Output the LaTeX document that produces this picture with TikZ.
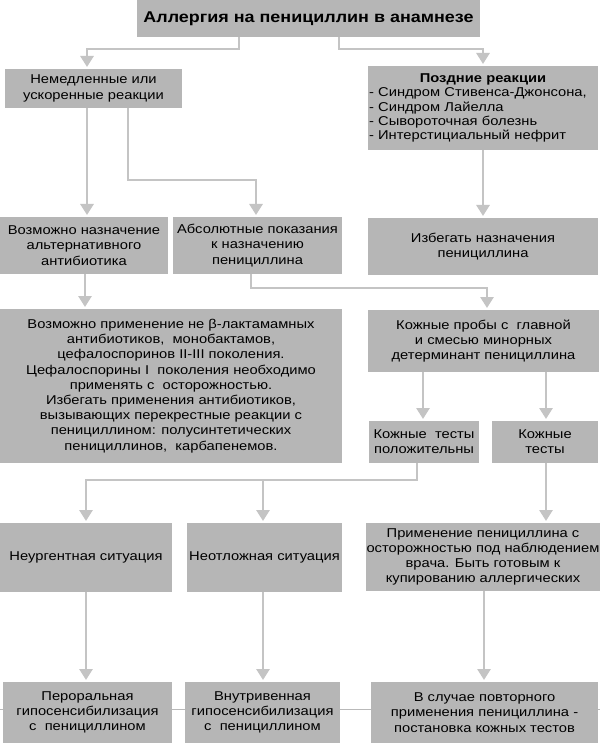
\documentclass[tikz,border=0pt]{standalone}
\usepackage{fontspec}
\setmainfont{Liberation Sans}[FakeStretch=1.15]
\usetikzlibrary{arrows.meta}
\definecolor{boxgray}{RGB}{182,182,182}
\definecolor{linegray}{RGB}{196,196,196}
\begin{document}
\begin{tikzpicture}[x=1pt,y=-1pt,
  box/.style={fill=boxgray, inner sep=1pt, outer sep=0pt, align=center,
    font=\fontsize{12.8}{15.2}\selectfont},
  conn/.style={draw=linegray, line width=2.8pt, -{Triangle[width=13pt,length=11pt]}, shorten >=2pt},
  link/.style={draw=linegray, line width=2.8pt}]
\fill[white] (0,0) rectangle (600,743);
\useasboundingbox (0,0) rectangle (600,743);
\draw[gray!55, line width=0.8pt] (0,709) -- (600,709);

\node[box, minimum width=343, minimum height=37, font=\fontsize{15.6}{17}\selectfont\bfseries] (title) at (308.5,18.5) {Аллергия на пенициллин в анамнезе};
\node[box, minimum width=177, minimum height=39] (imm) at (93.5,88.5) {Немедленные или\\ускоренные реакции};
\node[box, minimum width=230, minimum height=84, text width=228, align=left, font=\fontsize{12.8}{14.3}\selectfont] (late) at (483,108)
  {\makebox[228pt]{\bfseries Поздние реакции}\\- Синдром Стивенса-Джонсона,\\- Синдром Лайелла\\- Сывороточная болезнь\\- Интерстициальный нефрит};
\node[box, minimum width=168, minimum height=57] (alt) at (84,245.5) {Возможно назначение\\альтернативного\\антибиотика};
\node[box, minimum width=169, minimum height=57] (absind) at (257.5,245.5) {Абсолютные показания\\к назначению\\пенициллина};
\node[box, minimum width=230, minimum height=57] (avoid) at (483,246.5) {Избегать назначения\\пенициллина};
\node[box, minimum width=342, minimum height=154] (nonbeta) at (171,386) {Возможно применение не β-лактамамных\\антибиотиков,\ \ монобактамов,\\цефалоспоринов II-III поколения.\\Цефалоспорины I\ \ поколения необходимо\\применять с\ \ осторожностью.\\Избегать применения антибиотиков,\\вызывающих перекрестные реакции с\\пенициллином: полусинтетических\\пенициллинов,\ \ карбапенемов.};
\node[box, minimum width=231, minimum height=62] (skin) at (483.5,341) {Кожные пробы с\ \ главной\\и смесью минорных\\детерминант пенициллина};
\node[box, minimum width=110, minimum height=42] (pos) at (424,442) {Кожные\ \ тесты\\положительны};
\node[box, minimum width=106, minimum height=42] (neg) at (545,442) {Кожные\\тесты};
\node[box, minimum width=172, minimum height=69] (nonurg) at (86,557.5) {Неургентная ситуация};
\node[box, minimum width=155, minimum height=69] (urg) at (264.5,557.5) {Неотложная ситуация};
\node[box, minimum width=230, minimum height=68] (apply) at (483,557) {Применение пенициллина с\\осторожностью под наблюдением\\врача. Быть готовым к\\купированию аллергических};
\node[box, minimum width=169, minimum height=61] (oral) at (87.5,712.5) {Пероральная\\гипосенсибилизация\\с\ \ пенициллином};
\node[box, minimum width=155, minimum height=61] (iv) at (262.5,712.5) {Внутривенная\\гипосенсибилизация\\с\ \ пенициллином};
\node[box, minimum width=227, minimum height=61] (rep) at (484.5,712.5) {В случае повторного\\применения пенициллина -\\постановка кожных тестов};

\draw[conn] (239,0 |- title.south) |- (87,49) -- (87,0 |- imm.north);
\draw[conn] (339,0 |- title.south) |- (483,49) -- (483,0 |- late.north);
\draw[conn] (87,0 |- imm.south) -- (87,0 |- alt.north);
\draw[conn] (128,0 |- imm.south) |- (256,180) -- (256,0 |- absind.north);
\draw[conn] (483,0 |- late.south) -- (483,0 |- avoid.north);
\draw[conn] (85,0 |- alt.south) -- (85,0 |- nonbeta.north);
\draw[conn] (251,0 |- absind.south) |- (487,288) -- (487,0 |- skin.north);
\draw[conn] (423,0 |- skin.south) -- (423,0 |- pos.north);
\draw[conn] (546,0 |- skin.south) -- (546,0 |- neg.north);
\draw[conn] (417,0 |- pos.south) |- (86,480) -- (86,0 |- nonurg.north);
\coordinate (split) at (263,480);
\draw[conn] (split) -- (263,0 |- urg.north);
\draw[conn] (546,0 |- neg.south) -- (546,0 |- apply.north);
\draw[conn] (86,0 |- nonurg.south) -- (86,0 |- oral.north);
\draw[conn] (263,0 |- urg.south) -- (263,0 |- iv.north);
\draw[conn] (484,0 |- apply.south) -- (484,0 |- rep.north);
\end{tikzpicture}
\end{document}
